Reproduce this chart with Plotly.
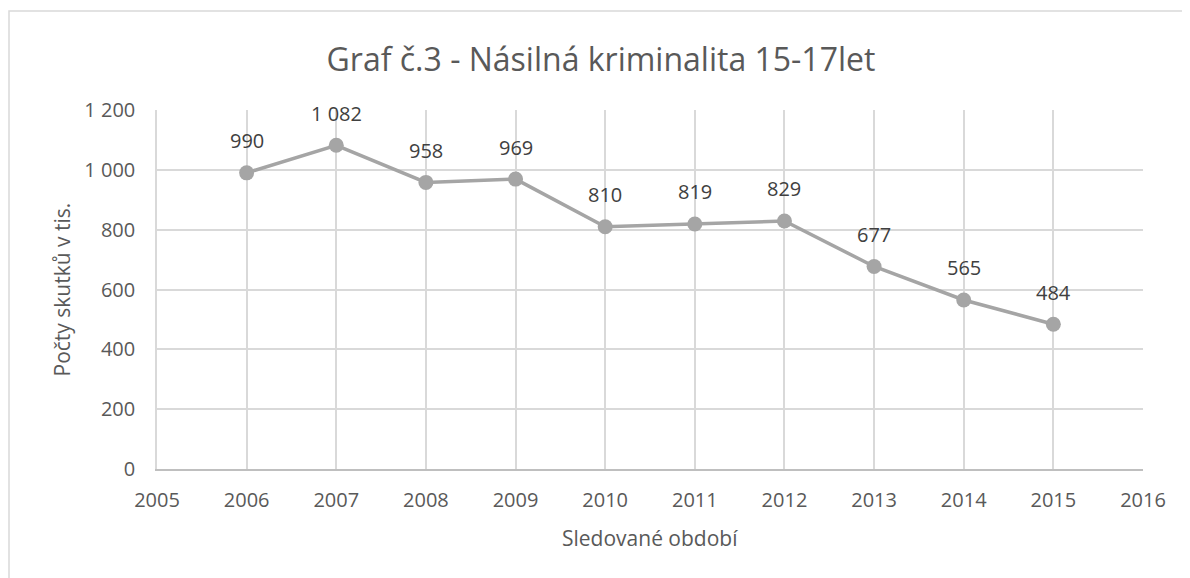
import plotly.graph_objects as go

years = [2006, 2007, 2008, 2009, 2010, 2011, 2012, 2013, 2014, 2015]
values = [990, 1082, 958, 969, 810, 819, 829, 677, 565, 484]

title_text = "Graf č.3 - Násilná kriminalita 15-17let"
x_title = "Sledované období"
y_title = "Počty skutků v tis."

FONT = "Open Sans, Calibri, Carlito, sans-serif"
TXT = "#595959"
GREY = "#a5a5a5"

# page body margin of 8px shifts the figure; compensate
W, H = 1182, 570
ML, MR, MT, MB = 149, 47, 102, 109
PW = W - ML - MR
PH = H - MT - MB

def px(X):
    return (X - 8 - ML) / PW

def py(Y):
    return (H - MB - (Y - 8)) / PH

def fmt(v):
    return f"{v:,}".replace(",", " ")

fig = go.Figure()
fig.add_trace(go.Scatter(
    x=years, y=values, mode="lines+markers",
    line=dict(color=GREY, width=3.5),
    marker=dict(color=GREY, size=15),
    hoverinfo="x+y", showlegend=False,
))

for x, v in zip(years, values):
    fig.add_annotation(x=x, y=v, text=fmt(v), showarrow=False,
                       yshift=32, font=dict(family=FONT, size=20, color="#404040"))

fig.add_annotation(xref="paper", yref="paper", x=0.5, y=py(538), text=x_title,
                   showarrow=False, xanchor="center", yanchor="middle",
                   font=dict(family=FONT, size=21, color=TXT))
fig.add_annotation(xref="paper", yref="paper", x=px(61), y=0.5, text=y_title,
                   showarrow=False, xanchor="center", yanchor="middle", textangle=-90,
                   font=dict(family=FONT, size=21, color=TXT))

fig.update_layout(
    width=W, height=H,
    paper_bgcolor="white", plot_bgcolor="white",
    margin=dict(l=ML, r=MR, t=MT, b=MB),
    font=dict(family=FONT, size=20, color=TXT),
    title=dict(text=title_text, x=(601 - 8) / W, xanchor="center",
               y=1 - (60 - 8) / H, yanchor="middle",
               font=dict(family=FONT, size=32, color=TXT)),
    xaxis=dict(range=[2005, 2016], dtick=1, tick0=2005, showgrid=True,
               gridcolor="#d9d9d9", gridwidth=1.5, zeroline=False,
               showline=True, linecolor="#bfbfbf", linewidth=1.5,
               ticks="", ticklabelstandoff=12,
               tickfont=dict(family=FONT, size=20, color=TXT)),
    yaxis=dict(range=[0, 1200], dtick=200, showgrid=True, gridcolor="#d9d9d9",
               gridwidth=1.5, zeroline=False, showline=True, linecolor="#d9d9d9",
               linewidth=1.5, tickformat=",d", ticks="", ticklabelstandoff=16,
               tickfont=dict(family=FONT, size=20, color=TXT)),
    separators=", ",
)

fig.add_shape(type="rect", xref="paper", yref="paper",
              x0=px(9), x1=px(1300), y0=py(700), y1=py(11),
              line=dict(color="#d9d9d9", width=1.5), fillcolor="rgba(0,0,0,0)", layer="below")

fig.write_html("out.html")
